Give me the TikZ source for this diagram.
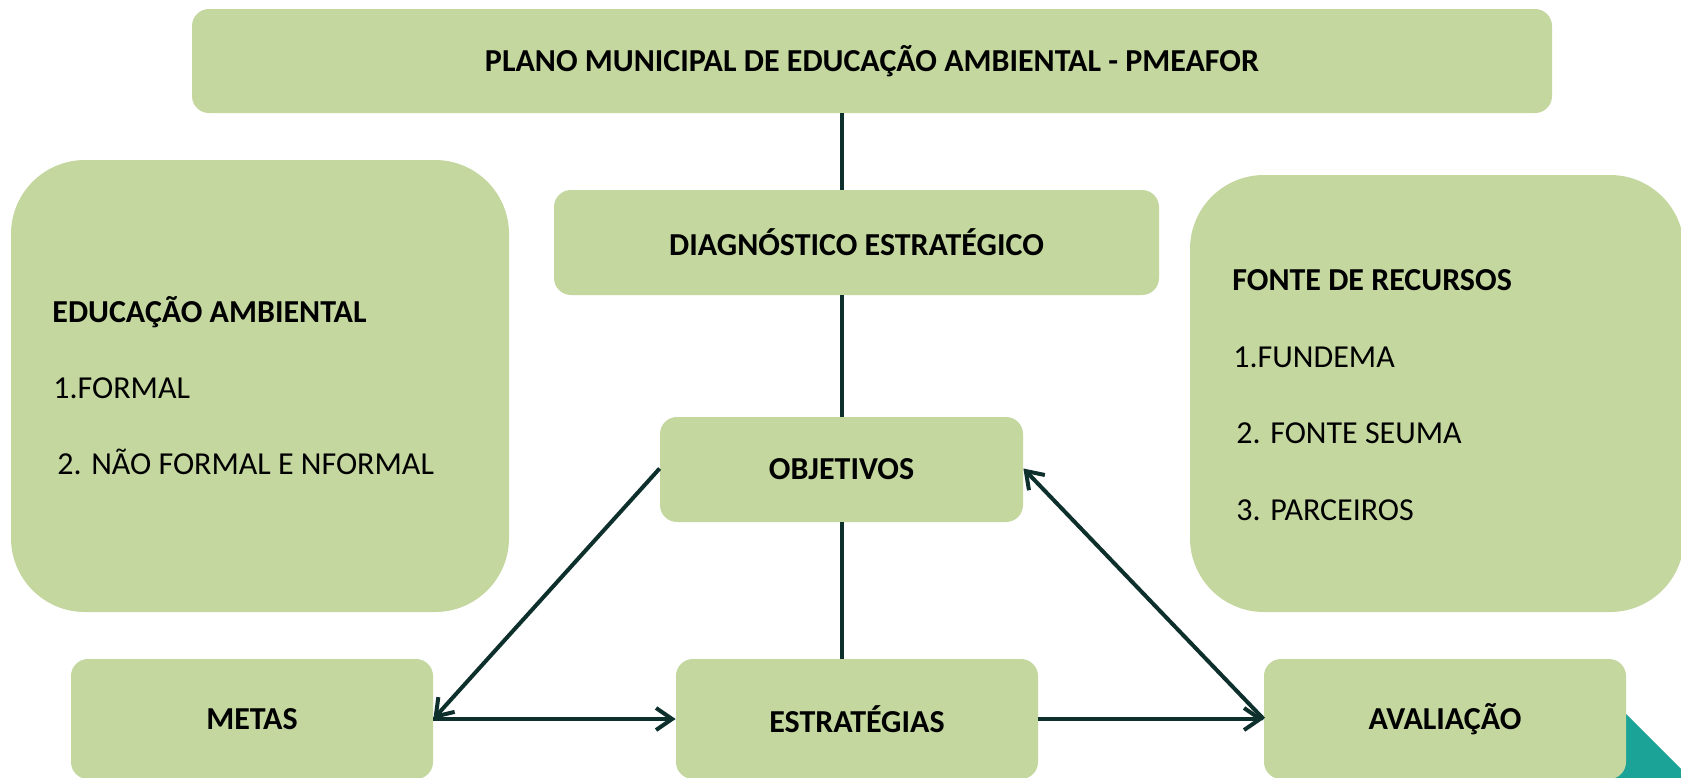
\documentclass[tikz,border=0pt]{standalone}
\usepackage{fontspec}
\setmainfont{Carlito}
\usetikzlibrary{arrows.meta}
\definecolor{boxgreen}{HTML}{C4D79F}
\definecolor{linedark}{HTML}{0E302D}
\definecolor{tealtri}{HTML}{1AA396}
\begin{document}
\begin{tikzpicture}[x=0.5pt,y=-0.5pt,
  box/.style={fill=boxgreen, draw=none, rounded corners=8.5pt, inner sep=0pt,
    font=\fontsize{16pt}{19pt}\selectfont\bfseries, align=center},
  bigbox/.style={fill=boxgreen, draw=none, rounded corners=37pt, inner sep=0pt},
  txt/.style={anchor=base west, inner sep=0pt, font=\fontsize{16pt}{19pt}\selectfont},
  btxt/.style={txt, font=\fontsize{16pt}{19pt}\selectfont\bfseries},
  conn/.style={draw=linedark, line width=2pt},
  arr/.style={conn, -{Straight Barb[length=8pt,width=11pt,line width=2pt]}}
]
\clip (0,0) rectangle (1681,777);
\fill[white] (0,0) rectangle (1681,777);
% teal corner shape
\fill[tealtri] (1600,688) -- (1720,808) -- (1600,808) -- cycle;
% boxes
\node[box, minimum width=680pt, minimum height=52pt] (top) at (872,61) {PLANO MUNICIPAL DE EDUCAÇÃO AMBIENTAL - PMEAFOR};
\node[box, minimum width=302.5pt, minimum height=52.5pt] (diag) at (856.5,242.5) {DIAGNÓSTICO ESTRATÉGICO};
\node[box, minimum width=181.5pt, minimum height=52.5pt] (obj) at (841.5,469.5) {OBJETIVOS};
\node[box, minimum width=181pt, minimum height=60pt] (metas) at (252,719) {METAS};
\node[box, minimum width=181pt, minimum height=60pt] (est) at (857,719) {ESTRATÉGIAS};
\node[box, minimum width=181pt, minimum height=60pt] (aval) at (1445,719) {AVALIAÇÃO};
\node[bigbox, minimum width=249pt, minimum height=226pt] (left) at (260,386) {};
\node[bigbox, minimum width=247pt, minimum height=218.5pt] (right) at (1437,393.5) {};
% texts in big boxes
\node[btxt] (lt1) at (52,322) {EDUCAÇÃO AMBIENTAL};
\node[txt] (lt2) at (53,398) {1.FORMAL};
\node[txt] (lt3) at (57,474) {2. NÃO FORMAL E NFORMAL};
\node[btxt] (rt1) at (1232,290) {FONTE DE RECURSOS};
\node[txt] (rt2) at (1233,367) {1.FUNDEMA};
\node[txt] (rt3) at (1236,443) {2. FONTE SEUMA};
\node[txt] (rt4) at (1236,520) {3. PARCEIROS};
% vertical connectors
\draw[conn] (obj.north |- top.south) -- (obj.north |- diag.north);
\draw[conn] (obj.north |- diag.south) -- (obj.north);
\draw[conn] (obj.south) -- (obj.south |- est.north);
% arrows
\coordinate (objL) at ([yshift=0.5pt]obj.west);
\coordinate (objR) at ([yshift=0.5pt]obj.east);
\draw[arr] (objL) -- (metas.east);
\draw[arr] (metas.east) -- (est.west);
\draw[arr] (est.east) -- (aval.west);
\draw[arr] (aval.west) -- (objR);
\end{tikzpicture}
\end{document}
